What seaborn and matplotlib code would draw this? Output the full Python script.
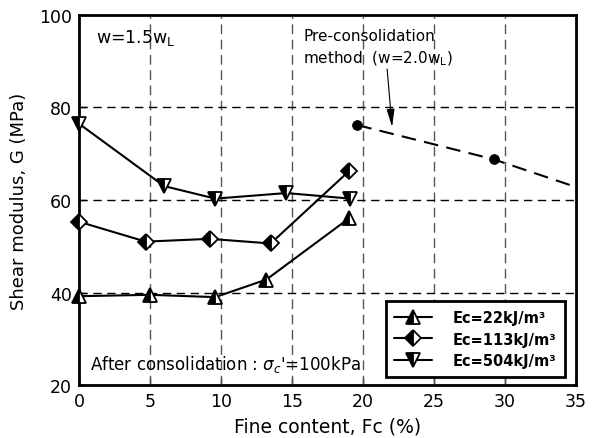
import matplotlib
matplotlib.use("Agg")
import matplotlib.pyplot as plt
import seaborn as sns
import pandas as pd
from matplotlib.lines import Line2D

sns.set_theme(style="white")
plt.rcParams['font.family'] = ['DejaVu Sans']
plt.rcParams['mathtext.fontset'] = 'dejavusans'
plt.rcParams['text.color'] = 'black'
plt.rcParams['axes.labelcolor'] = 'black'
plt.rcParams['xtick.color'] = 'black'
plt.rcParams['ytick.color'] = 'black'

# Data
fc_22 = [0, 5, 9.6, 13.2, 19.0]
g_22 = [39.2, 39.5, 39.0, 42.8, 56.0]
fc_113 = [0, 4.7, 9.2, 13.5, 19.0]
g_113 = [55.3, 51.0, 51.6, 50.6, 66.2]
fc_504 = [0, 6.0, 9.6, 14.6, 19.1]
g_504 = [76.5, 63.0, 60.3, 61.5, 60.3]
fc_pre = [19.6, 29.2]
g_pre = [76.2, 68.8]
fc_pre_line = [19.6, 29.2, 35.0]
g_pre_line = [76.2, 68.8, 62.8]
labels = ["Ec=22kJ/m³", "Ec=113kJ/m³", "Ec=504kJ/m³"]
xticks = [0, 5, 10, 15, 20, 25, 30, 35]
yticks = [20, 40, 60, 80, 100]

fig = plt.figure(figsize=(5.97, 4.39), dpi=100)
ax = fig.add_axes([0.1323, 0.1207, 0.8325, 0.8429])

# grid
for xv in xticks[1:-1]:
    ax.axvline(xv, color='#555555', lw=1.0, ls=(0, (7, 4)), zorder=1)
for yv in yticks[1:-1]:
    ax.axhline(yv, color='black', lw=1.0, ls=(0, (6, 4)), zorder=1)

series = [(fc_22, g_22, '^'), (fc_113, g_113, 'D'), (fc_504, g_504, 'v')]
handles = []
for (xs, ys, m), lab in zip(series, labels):
    df = pd.DataFrame({'x': xs, 'y': ys})
    ms = 10 if m != 'D' else 8
    sns.lineplot(data=df, x='x', y='y', ax=ax, color='black', lw=1.5,
                 marker=m, markersize=ms, fillstyle='left',
                 markerfacecolor='black', markerfacecoloralt='white',
                 markeredgecolor='black', markeredgewidth=1.3,
                 zorder=5, clip_on=False, legend=False)
    handles.append(Line2D([0], [0], color='black', lw=1.5, marker=m,
                          markersize=ms, fillstyle='left',
                          markerfacecolor='black', markerfacecoloralt='white',
                          markeredgecolor='black', markeredgewidth=1.3))

dfl = pd.DataFrame({'x': fc_pre_line, 'y': g_pre_line})
sns.lineplot(data=dfl, x='x', y='y', ax=ax, color='black', lw=1.5,
             ls=(0, (7, 4)), zorder=4, legend=False)
dfp = pd.DataFrame({'x': fc_pre, 'y': g_pre})
sns.scatterplot(data=dfp, x='x', y='y', ax=ax, color='black', s=50,
                edgecolor='black', zorder=6, legend=False)

ax.set_xlim(0, 35)
ax.set_ylim(20, 100)
ax.set_xticks(xticks)
ax.set_yticks(yticks)
ax.tick_params(direction='in', length=5, width=1, labelsize=12.5, pad=5,
               bottom=True, left=True, colors='black')
for sp in ax.spines.values():
    sp.set_linewidth(2)
    sp.set_color('black')
ax.set_xlabel("Fine content, Fc (%)", fontsize=13.5, labelpad=5, color='black')
ax.set_ylabel("Shear modulus, G (MPa)", fontsize=13, labelpad=8, color='black')

ax.text(1.2, 97.3, r"w=1.5w$_\mathrm{L}$", fontsize=12.5, va='top', ha='left',
        color='black')
ax.text(15.8, 97.2, "Pre-consolidation\nmethod  (w=2.0w$_\\mathrm{L}$)",
        fontsize=11, va='top', ha='left', linespacing=1.45, color='black')
ax.annotate("", xy=(22.05, 75.8), xytext=(21.7, 88.3),
            arrowprops=dict(arrowstyle='-|>,head_length=0.9,head_width=0.2',
                            color='black', lw=0.8, shrinkA=0, shrinkB=0))
ax.text(0.75, 22.3, r"After consolidation : $\sigma_c$'=100kPa", fontsize=12,
        va='bottom', ha='left', color='black')

leg = ax.legend(handles, labels, loc='lower right', bbox_to_anchor=(0.978, 0.022),
                frameon=True, fancybox=False, edgecolor='black', framealpha=1,
                prop={'weight': 'bold', 'size': 10.5}, handlelength=2.6,
                borderpad=0.6, labelspacing=0.45, handletextpad=1.4,
                borderaxespad=0)
leg.get_frame().set_linewidth(2)
for t in leg.get_texts():
    t.set_color('black')

fig.savefig("out.png", dpi=100)
